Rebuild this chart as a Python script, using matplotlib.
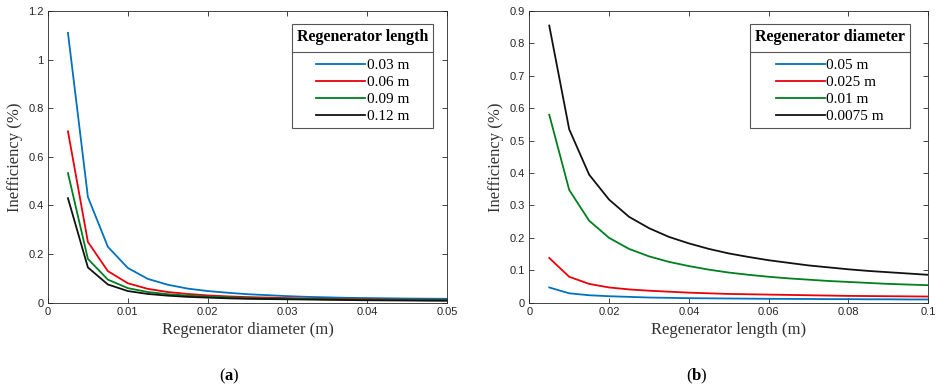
import numpy as np
import matplotlib.pyplot as plt
from matplotlib.lines import Line2D

# (a) inefficiency vs regenerator diameter, one curve per length
diam = [0.0025, 0.005, 0.0075, 0.01, 0.0125, 0.015, 0.0175, 0.02, 0.0225, 0.025,
        0.0275, 0.03, 0.0325, 0.035, 0.0375, 0.04, 0.0425, 0.045, 0.0475, 0.05]
len_labels = ["0.03 m", "0.06 m", "0.09 m", "0.12 m"]
ineff_len003 = [1.11, 0.435, 0.23, 0.143, 0.098, 0.074, 0.058, 0.048, 0.041, 0.035,
                0.031, 0.027, 0.024, 0.022, 0.020, 0.019, 0.018, 0.017, 0.0165, 0.016]
ineff_len006 = [0.705, 0.25, 0.13, 0.08, 0.057, 0.044, 0.036, 0.030, 0.026, 0.023,
                0.021, 0.019, 0.017, 0.016, 0.015, 0.014, 0.013, 0.0125, 0.012, 0.0115]
ineff_len009 = [0.533, 0.18, 0.095, 0.06, 0.044, 0.035, 0.029, 0.025, 0.022, 0.019,
                0.017, 0.016, 0.015, 0.014, 0.013, 0.012, 0.011, 0.011, 0.010, 0.010]
ineff_len012 = [0.43, 0.145, 0.075, 0.048, 0.036, 0.029, 0.024, 0.021, 0.018, 0.016,
                0.015, 0.014, 0.013, 0.012, 0.011, 0.010, 0.0095, 0.009, 0.0085, 0.008]

# (b) inefficiency vs regenerator length, one curve per diameter
length = [0.005, 0.01, 0.015, 0.02, 0.025, 0.03, 0.035, 0.04, 0.045, 0.05,
          0.055, 0.06, 0.065, 0.07, 0.075, 0.08, 0.085, 0.09, 0.095, 0.1]
diam_labels = ["0.05 m", "0.025 m", "0.01 m", "0.0075 m"]
ineff_d005 = [0.047, 0.029, 0.023, 0.020, 0.018, 0.016, 0.015, 0.014, 0.0135, 0.013,
              0.0125, 0.012, 0.0118, 0.0115, 0.011, 0.011, 0.0105, 0.0105, 0.010, 0.010]
ineff_d0025 = [0.138, 0.08, 0.058, 0.047, 0.041, 0.037, 0.034, 0.031, 0.029, 0.027,
               0.026, 0.025, 0.024, 0.023, 0.022, 0.021, 0.0205, 0.020, 0.0195, 0.019]
ineff_d001 = [0.58, 0.348, 0.253, 0.2, 0.166, 0.143, 0.126, 0.113, 0.102, 0.093,
              0.086, 0.080, 0.075, 0.071, 0.067, 0.064, 0.061, 0.058, 0.056, 0.054]
ineff_d00075 = [0.855, 0.535, 0.395, 0.318, 0.265, 0.23, 0.203, 0.183, 0.166, 0.152,
                0.141, 0.131, 0.123, 0.115, 0.109, 0.103, 0.098, 0.094, 0.09, 0.086]

colors = ["#0072BD", "#E8000B", "#007F1F", "#111111"]
serif = "Liberation Serif"
sans = "Liberation Sans"
axcol = "#262626"

plt.rcParams["mathtext.fontset"] = "custom"
plt.rcParams["mathtext.rm"] = serif
plt.rcParams["mathtext.bf"] = serif + ":bold"

fig = plt.figure(figsize=(9.37, 3.89), dpi=100)
W, H = 937, 389
ax1 = fig.add_axes([48 / W, 1 - 302.7 / H, (447 - 48) / W, 291.7 / H])
ax2 = fig.add_axes([529.3 / W, 1 - 302.7 / H, (928.3 - 529.3) / W, 291.7 / H])


def fmt(v):
    return ("%.4f" % v).rstrip("0").rstrip(".")


def style_axes(ax, xlim, ylim, xticks, yticks, xlabel):
    ax.set_xlim(*xlim)
    ax.set_ylim(*ylim)
    ax.set_xticks(xticks)
    ax.set_yticks(yticks)
    ax.set_xticklabels([fmt(v) for v in xticks], fontfamily=sans, fontsize=8, color=axcol)
    ax.set_yticklabels([fmt(v) for v in yticks], fontfamily=sans, fontsize=8, color=axcol)
    ax.tick_params(direction="in", top=True, right=True, length=3.5, width=0.6,
                   color=axcol, pad=3)
    for s in ax.spines.values():
        s.set_color(axcol)
        s.set_linewidth(0.6)
    ax.set_xlabel(xlabel, fontfamily=serif, fontsize=12, color="#333333", labelpad=4)
    ax.set_ylabel("Inefficiency (%)", fontfamily=serif, fontsize=12, color="#333333", labelpad=4)


def add_legend(ax, labels, title, xanchor):
    leg = ax.legend(ax.lines, labels, title=title, loc="upper right",
                    bbox_to_anchor=(xanchor, 0.955), prop={"family": serif, "size": 11},
                    title_fontproperties={"family": serif, "size": 11.5, "weight": "bold"},
                    fancybox=False, framealpha=1, edgecolor="#555555",
                    handlelength=3.2, handletextpad=0.1, labelspacing=0.22,
                    borderpad=0.3, borderaxespad=0)
    leg.get_frame().set_linewidth(0.8)
    leg._legend_box.align = "center"
    leg._legend_box.sep = 10
    return leg


for ys, c in zip([ineff_len003, ineff_len006, ineff_len009, ineff_len012], colors):
    ax1.plot(diam, ys, color=c, lw=1.3)
style_axes(ax1, (0, 0.05), (0, 1.2), np.arange(0, 0.051, 0.01), np.arange(0, 1.21, 0.2),
           "Regenerator diameter (m)")
leg1 = add_legend(ax1, len_labels, "Regenerator length", 0.965)

for ys, c in zip([ineff_d005, ineff_d0025, ineff_d001, ineff_d00075], colors):
    ax2.plot(length, ys, color=c, lw=1.3)
style_axes(ax2, (0, 0.1), (0, 0.9), np.arange(0, 0.101, 0.02), np.arange(0, 0.91, 0.1),
           "Regenerator length (m)")
leg2 = add_legend(ax2, diam_labels, "Regenerator diameter", 0.953)

# separator line under legend titles
fig.canvas.draw()
r = fig.canvas.get_renderer()
inv = fig.transFigure.inverted()
for leg in (leg1, leg2):
    fb = leg.get_frame().get_window_extent(r)
    tb = leg.get_title().get_window_extent(r)
    hb = leg._legend_handle_box.get_window_extent(r)
    y = (tb.y0 + hb.y1) / 2
    (x0, yy), (x1, _) = inv.transform([(fb.x0, y), (fb.x1, y)])
    fig.add_artist(Line2D([x0, x1], [yy, yy], color="#555555", lw=0.8, zorder=10))

fig.text(229 / W, 1 - 376 / H, r"($\mathbf{a}$)", ha="center", va="center",
         fontfamily=serif, fontsize=12)
fig.text(697 / W, 1 - 376 / H, r"($\mathbf{b}$)", ha="center", va="center",
         fontfamily=serif, fontsize=12)

fig.savefig("out.png", dpi=100)
